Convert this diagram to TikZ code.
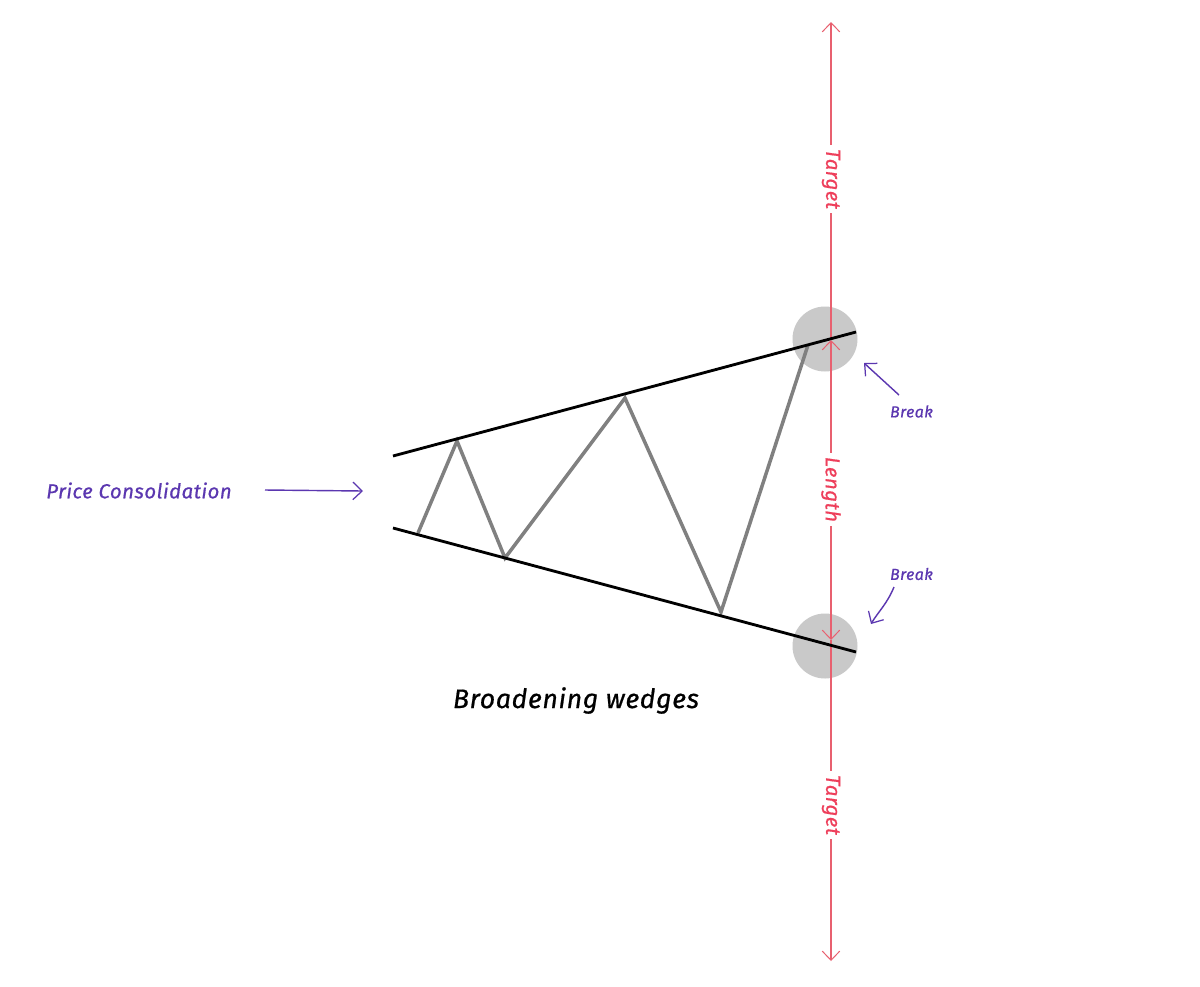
\documentclass[tikz,border=0pt]{standalone}
\usepackage{fontspec}
\setmainfont[FakeBold=0.7,LetterSpace=2.5]{Fira Sans}
\usetikzlibrary{arrows.meta}
\definecolor{redtxt}{HTML}{EE3F5B}
\definecolor{redline}{HTML}{E8606F}
\definecolor{purp}{HTML}{5B37B0}
\definecolor{zig}{HTML}{808080}
\definecolor{blob}{HTML}{C9C9C9}
\tikzset{
  px/.style={x=0.6pt,y=-0.6pt},
  redarrow/.style={draw=redline,line width=0.65pt,-{Straight Barb[length=5.5pt,width=10.5pt,line width=0.6pt]}},
  redboth/.style={draw=redline,line width=0.65pt,{Straight Barb[length=5.5pt,width=10.5pt,line width=0.6pt]}-{Straight Barb[length=5.5pt,width=10.5pt,line width=0.6pt]}},
  purparrow/.style={draw=purp,line width=0.85pt,-{Straight Barb[length=5.5pt,width=10.5pt,line width=0.75pt]}},
  redlabel/.style={text=redtxt,font=\itshape\fontsize{12.2}{14}\selectfont,rotate=-90,fill=white,inner sep=2.5pt},
  brk/.style={text=purp,font=\itshape\fontsize{9.6}{11}\selectfont,inner sep=0pt},
  blobc/.style={circle,fill=blob,draw=none,minimum size=39pt,inner sep=0pt},
  wedge/.style={draw=black,line width=1.7pt},
  zigline/.style={draw=zig,line width=2.1pt,line join=miter}
}
\begin{document}
\begin{tikzpicture}[px]
\useasboundingbox[fill=white] (0,0) rectangle (1200,986);
\node[blobc] (c1) at (825,339) {};
\node[blobc] (c2) at (825,646) {};
% red measure arrows
\coordinate (t0) at (831,22);
\coordinate (t1) at (831,340);
\coordinate (t2) at (831,640);
\coordinate (t3) at (831,961);
\draw[redarrow] (t1) -- (t0);
\draw[redboth] (t1) -- (t2);
\draw[redarrow] (t2) -- (t3);
\node[redlabel] (tart) at (831,179) {Target};
\node[redlabel] (lenl) at (831,489.5) {Length};
\node[redlabel] (tarb) at (831,805) {Target};
% wedge
\coordinate (u1) at (393,456); \coordinate (u2) at (856,332);
\coordinate (l1) at (393,528); \coordinate (l2) at (856,652);
\draw[zigline] (418,533) coordinate (z0) -- (457,441) coordinate (z1) -- (505,558) coordinate (z2) -- (625,398) coordinate (z3) -- (721,612) coordinate (z4) -- (808,345) coordinate (z5);
\draw[wedge] (u1) -- (u2);
\draw[wedge] (l1) -- (l2);
% labels
\node[text=purp,font=\itshape\fontsize{12.2}{14}\selectfont,inner sep=0pt] (pc) at (139,490.5) {Price Consolidation};
\coordinate (pa0) at (265,490); \coordinate (pa1) at (363,491);
\draw[purparrow] (pa0) -- (pa1);
\node[brk] (b1) at (911.5,411.5) {Break};
\node[brk] (b2) at (911.5,574) {Break};
\coordinate (ba0) at (899,395); \coordinate (ba1) at (864,363);
\draw[purparrow] (ba0) -- (ba1);
\coordinate (bb0) at (894,587); \coordinate (bb1) at (871,624);
\draw[purparrow] (bb0) .. controls (887,604) and (878,612) .. (bb1);
\node[text=black,font=\itshape\fontsize{16}{19}\selectfont,inner sep=0pt] (title) at (576,700.5) {Broadening wedges};
\end{tikzpicture}
\end{document}
